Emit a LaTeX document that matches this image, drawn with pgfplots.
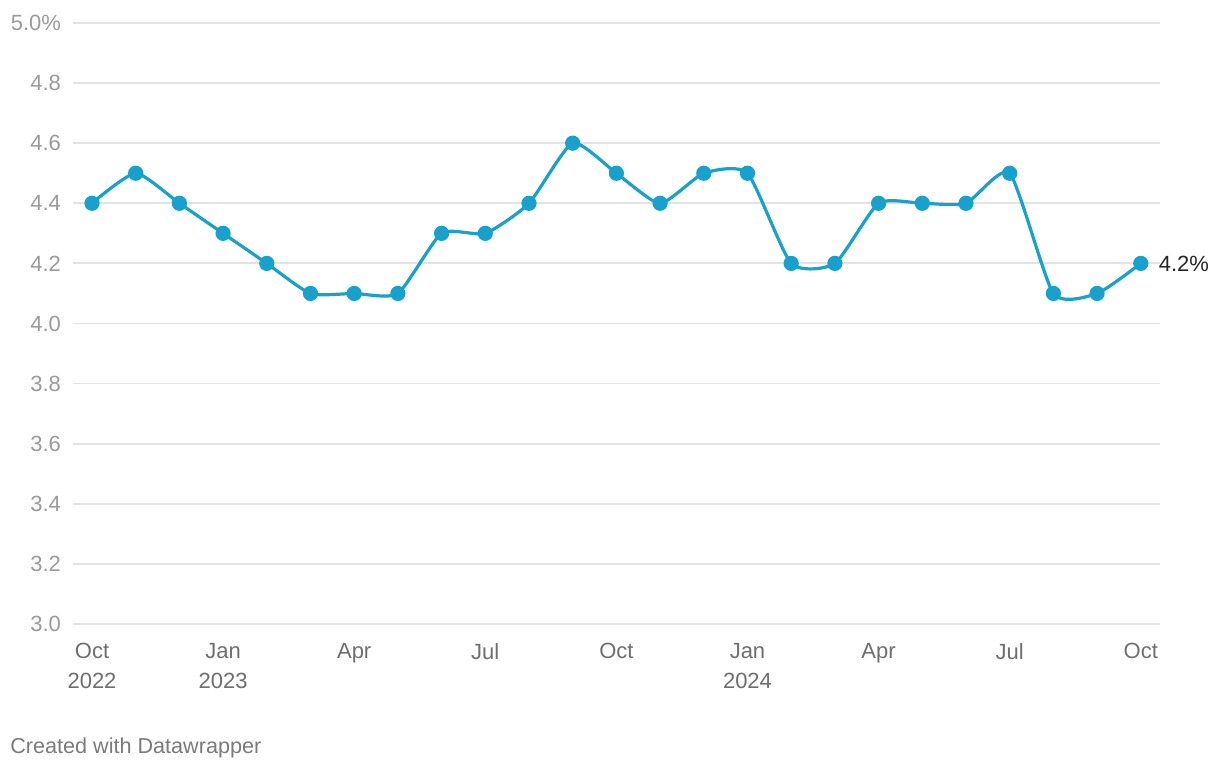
\documentclass[border=0pt]{standalone}
\usepackage{pgfplots}
\pgfplotsset{compat=1.18}
\usepackage{fontspec}
\setmainfont{Liberation Sans}
\definecolor{lineblue}{HTML}{18A1CD}
\definecolor{gridgray}{HTML}{E3E3E3}
\definecolor{ylab}{HTML}{9A9A9A}
\definecolor{xlab}{HTML}{6E6E6E}
\definecolor{foot}{HTML}{7A7A7A}
\begin{document}
\begin{tikzpicture}
\begin{axis}[
  scale only axis,
  width=543.5pt, height=300.5pt,
  xmin=-0.435, xmax=24.44,
  ymin=3.0, ymax=5.0,
  axis line style={draw=none},
  tick style={draw=none},
  ymajorgrids,
  grid style={color=gridgray, line width=0.9pt},
  ytick={3.0,3.2,3.4,3.6,3.8,4.0,4.2,4.4,4.6,4.8,5.0},
  yticklabels={3.0,3.2,3.4,3.6,3.8,4.0,4.2,4.4,4.6,4.8,5.0\%},
  yticklabel style={font=\fontsize{11}{13}\selectfont, text=ylab, anchor=east, xshift=-2.5pt},
  xtick={0,3,6,9,12,15,18,21,24},
  xticklabels={Oct\\2022,Jan\\2023,Apr,Jul,Oct,Jan\\2024,Apr,Jul,Oct},
  xticklabel style={font=\fontsize{11}{15}\selectfont, text=xlab, align=center, anchor=north, yshift=-6pt},
  /pgf/number format/assume math mode=true,
  clip=false,
]
\addplot[lineblue, line width=1.6pt, smooth, tension=0.35,
  mark=*, mark size=3pt, mark options={fill=lineblue, draw=lineblue}]
  coordinates {
  (0,4.4) (1,4.5) (2,4.4) (3,4.3) (4,4.2) (5,4.1) (6,4.1) (7,4.1)
  (8,4.3) (9,4.3) (10,4.4) (11,4.6) (12,4.5) (13,4.4) (14,4.5) (15,4.5)
  (16,4.2) (17,4.2) (18,4.4) (19,4.4) (20,4.4) (21,4.5) (22,4.1) (23,4.1)
  (24,4.2)
  };
\node[anchor=west, font=\fontsize{11}{13}\selectfont, text=black!85, xshift=5.5pt] at (axis cs:24,4.2) {4.2\%};
\end{axis}
\node[anchor=south west, font=\fontsize{10.8}{12}\selectfont, text=foot, inner sep=0pt] at ([xshift=-31.5pt,yshift=-67pt]current axis.south west) {Created with Datawrapper};
\path[use as bounding box] ([xshift=-36.5pt,yshift=-73pt]current axis.south west) rectangle ([xshift=30pt,yshift=11.5pt]current axis.north east);
\end{tikzpicture}
\end{document}
